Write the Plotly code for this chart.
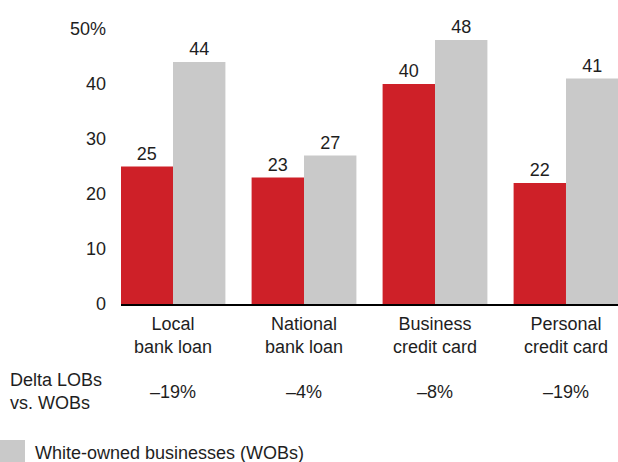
import plotly.graph_objects as go

categories = ["Local<br>bank loan", "National<br>bank loan", "Business<br>credit card", "Personal<br>credit card"]
lob_values = [25, 23, 40, 22]
wob_values = [44, 27, 48, 41]
delta_labels = ["\u201319%", "\u20134%", "\u20138%", "\u201319%"]
y_tickvals = [0, 10, 20, 30, 40, 50]
y_ticktext = ["0", "10", "20", "30", "40", "50%"]

RED = "#CE2028"
GRAY = "#C9C9C9"
TXT = "#1e1e1e"
FONT = "Liberation Sans, Arial, sans-serif"

W, H = 618, 462
L, R, T, B = 121, 0, 29, 158
PW, PH = W - L - R, H - T - B

def px2x(px):
    return (px - L) / PW

def py2y(py):
    return (H - B - py) / PH

x_idx = list(range(len(categories)))

fig = go.Figure()
fig.add_trace(go.Bar(
    x=x_idx, y=lob_values, marker_color=RED, marker_line_width=0,
    text=[str(v) for v in lob_values], textposition="outside",
    textfont=dict(size=18, color=TXT, family=FONT), cliponaxis=False,
    name="Latino-owned businesses (LOBs)", showlegend=False,
))
fig.add_trace(go.Bar(
    x=x_idx, y=wob_values, marker_color=GRAY, marker_line_width=0,
    text=[str(v) for v in wob_values], textposition="outside",
    textfont=dict(size=18, color=TXT, family=FONT), cliponaxis=False,
    name="White-owned businesses (WOBs)", showlegend=False,
))

annotations = []
for i, c in enumerate(categories):
    annotations.append(dict(x=i, xref="x", y=py2y(335.5), yref="paper", text=c,
                            showarrow=False, xanchor="center", yanchor="middle",
                            font=dict(size=18, color=TXT, family=FONT)))
    annotations.append(dict(x=i, xref="x", y=py2y(391.7), yref="paper", text=delta_labels[i],
                            showarrow=False, xanchor="center", yanchor="middle",
                            font=dict(size=18, color=TXT, family=FONT)))
annotations.append(dict(x=px2x(8), xref="paper", y=py2y(391), yref="paper",
                        text="Delta LOBs<br>vs. WOBs", align="left",
                        showarrow=False, xanchor="left", yanchor="middle",
                        font=dict(size=18, color=TXT, family=FONT)))
annotations.append(dict(x=px2x(33), xref="paper", y=py2y(453), yref="paper",
                        text="White-owned businesses (WOBs)", align="left",
                        showarrow=False, xanchor="left", yanchor="middle",
                        font=dict(size=18, color=TXT, family=FONT)))

shapes = [dict(type="rect", xref="paper", yref="paper",
               x0=px2x(0), x1=px2x(25), y0=py2y(462), y1=py2y(440),
               fillcolor=GRAY, line_width=0)]

fig.update_layout(
    width=W, height=H,
    margin=dict(l=L, r=R, t=T, b=B, pad=0),
    paper_bgcolor="white", plot_bgcolor="white",
    barmode="group", bargap=0.2, bargroupgap=0,
    font=dict(family=FONT, size=18, color=TXT),
    xaxis=dict(range=[-0.397, 3.397], showticklabels=False, ticks="",
               showgrid=False, zeroline=False, showline=True,
               linecolor="#000000", linewidth=2, fixedrange=True),
    yaxis=dict(range=[0, 50], tickvals=y_tickvals, ticktext=y_ticktext,
               showgrid=False, zeroline=False, showline=False, ticks="",
               ticklabelstandoff=14, tickfont=dict(size=18, color=TXT, family=FONT)),
    annotations=annotations, shapes=shapes,
)

fig.write_html("out.html")
